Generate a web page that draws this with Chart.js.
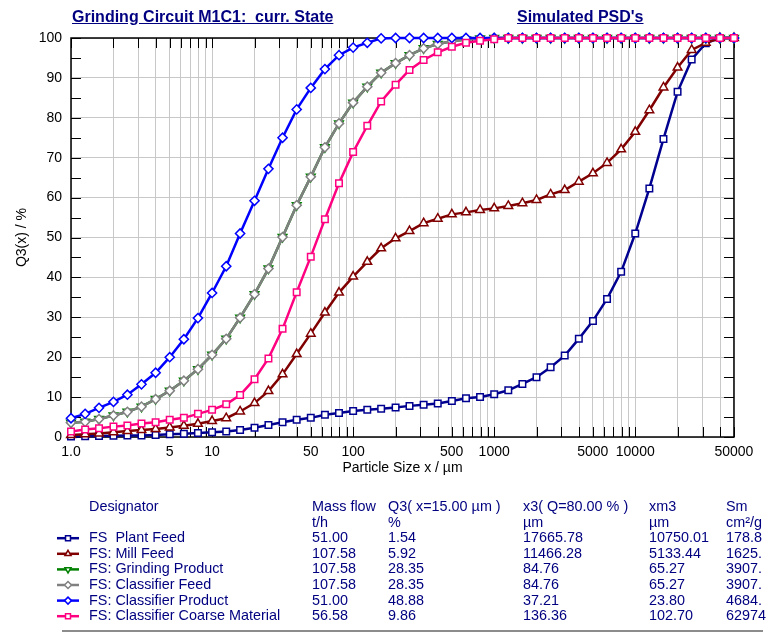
<!DOCTYPE html>
<html>
<head>
<meta charset="utf-8">
<script src="https://cdn.jsdelivr.net/npm/chart.js@4.4.1/dist/chart.umd.min.js"></script>
<style>
  html, body { margin: 0; padding: 0; background: #fff; }
  body { width: 782px; height: 632px; position: relative; overflow: hidden;
         font-family: "Liberation Sans", Arial, sans-serif; color: #000080; }
  #psd { position: absolute; left: 0; top: 0; }
  .title { position: absolute; top: 8px; font-weight: bold; font-size: 16px;
           text-decoration: underline; white-space: pre; }
  .cell { position: absolute; font-size: 14.4px; line-height: 15.6px; white-space: pre; }
  #rule { position: absolute; left: 62px; top: 630px; width: 701px; height: 2px; background: #8c8c8c; }
</style>
</head>
<body>
<canvas id="psd" width="782" height="632"></canvas>
<div class="title" style="left:72px">Grinding Circuit M1C1:  curr. State</div>
<div class="title" style="left:517px">Simulated PSD's</div>
<div id="table"></div>
<div id="rule"></div>
<script>
// particle size classes (µm)
const sizes = [1.00, 1.26, 1.58, 2.00, 2.51, 3.16, 3.98, 5.01, 6.31, 7.94,
  10.0, 12.6, 15.8, 20.0, 25.1, 31.6, 39.8, 50.1, 63.1, 79.4,
  100, 126, 158, 200, 251, 316, 398, 501, 631, 794,
  1000, 1259, 1585, 1995, 2512, 3162, 3981, 5012, 6310, 7943,
  10000, 12589, 15849, 19953, 25119, 31623, 39811, 50119];

// Q3(x) in % for each stream
const plantFeed = [0.1, 0.2, 0.25, 0.3, 0.35, 0.4, 0.5, 0.7, 0.8, 1.0,
  1.2, 1.4, 1.75, 2.3, 3.0, 3.7, 4.3, 4.8, 5.6, 6.0,
  6.5, 6.8, 7.1, 7.4, 7.8, 8.1, 8.4, 9.0, 9.7, 10.0,
  10.7, 11.7, 13.3, 15.0, 17.5, 20.4, 24.6, 29.1, 34.6, 41.4,
  51.0, 62.3, 74.7, 86.5, 94.6, 98.7, 100, 100];
const millFeed = [0.5, 0.7, 0.9, 1.2, 1.5, 1.75, 2.0, 2.4, 2.8, 3.3,
  4.0, 4.7, 6.4, 8.5, 11.5, 15.7, 20.8, 25.9, 31.2, 36.2,
  40.2, 43.9, 47.3, 49.8, 51.6, 53.6, 54.7, 55.8, 56.3, 56.9,
  57.3, 57.9, 58.6, 59.4, 60.8, 61.9, 64.0, 66.1, 68.7, 72.1,
  76.5, 81.9, 87.6, 92.6, 97.0, 98.8, 100, 100];
const grindingProduct = [3.6, 3.8, 4.5, 5.4, 6.3, 7.6, 9.5, 11.6, 14.1, 17.0,
  20.6, 24.6, 29.9, 35.8, 42.2, 50.1, 58.1, 65.2, 72.6, 78.6,
  83.8, 87.8, 91.3, 93.7, 95.7, 97.4, 98.5, 99.2, 99.6, 99.9,
  100, 100, 100, 100, 100, 100, 100, 100, 100, 100,
  100, 100, 100, 100, 100, 100, 100, 100];
const classifierFeed = [3.6, 3.8, 4.5, 5.4, 6.3, 7.6, 9.5, 11.6, 14.1, 17.0,
  20.6, 24.6, 29.9, 35.8, 42.2, 50.1, 58.1, 65.2, 72.6, 78.6,
  83.8, 87.8, 91.3, 93.7, 95.7, 97.4, 98.5, 99.2, 99.6, 99.9,
  100, 100, 100, 100, 100, 100, 100, 100, 100, 100,
  100, 100, 100, 100, 100, 100, 100, 100];
const classifierProduct = [4.7, 5.8, 7.3, 8.8, 10.6, 13.2, 16.1, 20.0, 24.5, 29.8,
  36.1, 42.8, 51.0, 59.2, 67.2, 75.0, 82.1, 87.5, 92.2, 95.7,
  97.6, 98.8, 99.9, 100, 100, 100, 100, 100, 100, 100,
  100, 100, 100, 100, 100, 100, 100, 100, 100, 100,
  100, 100, 100, 100, 100, 100, 100, 100];
const coarseMaterial = [1.4, 1.9, 2.2, 2.6, 2.9, 3.4, 3.7, 4.3, 4.8, 5.8,
  6.8, 8.2, 10.5, 14.5, 19.7, 27.1, 36.3, 45.2, 54.6, 63.6,
  71.4, 78.0, 84.1, 88.3, 92.0, 94.5, 96.4, 97.8, 98.8, 99.3,
  99.7, 100, 100, 100, 100, 100, 100, 100, 100, 100,
  100, 100, 100, 100, 100, 100, 100, 100];

// axis ticks
const xGridValues = [1, 2, 3, 4, 5, 6, 7, 8, 9,
  10, 20, 30, 40, 50, 60, 70, 80, 90,
  100, 200, 300, 400, 500, 600, 700, 800, 900,
  1000, 2000, 3000, 4000, 5000, 6000, 7000, 8000, 9000,
  10000, 20000, 30000, 40000, 50000];
const xTickLabels = [1, 5, 10, 50, 100, 500, 1000, 5000, 10000, 50000];

// table below the chart
const designators = ['FS  Plant Feed', 'FS: Mill Feed', 'FS: Grinding Product',
  'FS: Classifier Feed', 'FS: Classifier Product', 'FS: Classifier Coarse Material'];
const massFlow = ['51.00', '107.58', '107.58', '107.58', '51.00', '56.58'];
const q3At15 = ['1.54', '5.92', '28.35', '28.35', '48.88', '9.86'];
const x3At80 = ['17665.78', '11466.28', '84.76', '84.76', '37.21', '136.36'];
const xm3 = ['10750.01', '5133.44', '65.27', '65.27', '23.80', '102.70'];
const sm = ['178.8', '1625.', '3907.', '3907.', '4684.', '62974'];
const headers = ['Designator', 'Mass flow', 'Q3( x=15.00 µm )', 'x3( Q=80.00 % )', 'xm3', 'Sm'];
const units = ['', 't/h', '%', 'µm', 'µm', 'cm²/g'];

const colX = [89, 312, 388, 523, 649, 726];
const tableTop = 499;
const rowH = 15.6;

/********************************************
 * Table text
 ********************************************/
const table = document.getElementById('table');
function addRow(cells, top) {
  cells.forEach((txt, c) => {
    const d = document.createElement('div');
    d.className = 'cell';
    d.style.left = colX[c] + 'px';
    d.style.top = top + 'px';
    d.textContent = txt;
    table.appendChild(d);
  });
}
addRow(headers, tableTop);
addRow(units, tableTop + rowH);
designators.forEach((name, i) => {
  addRow([name, massFlow[i], q3At15[i], x3At80[i], xm3[i], sm[i]], tableTop + rowH * (i + 2));
});

/********************************************
 * Chart
 ********************************************/
function pts(vals) { return sizes.map((s, i) => ({ x: s, y: vals[i] })); }

function series(label, vals, color, style, rot, order) {
  return {
    label: label,
    data: pts(vals),
    borderColor: color,
    backgroundColor: '#fff',
    borderWidth: 2.5,
    pointStyle: style,
    pointRotation: rot,
    pointRadius: style === 'triangle' ? 5 : 4.6,
    pointBorderWidth: 1.5,
    pointBackgroundColor: '#fff',
    pointBorderColor: color,
    tension: 0,
    clip: false,
    order: order
  };
}

// inner ticks, plot frame and the legend symbols of the table
const frame = {
  id: 'frame',
  beforeDatasetsDraw(chart) {
    const { ctx, chartArea: a, scales: { x, y } } = chart;
    ctx.save();
    ctx.strokeStyle = '#000';
    ctx.lineWidth = 1;
    ctx.beginPath();
    x.ticks.forEach(t => {
      const px = Math.round(x.getPixelForValue(t.value)) + 0.5;
      ctx.moveTo(px, a.top); ctx.lineTo(px, a.top + 10);
      ctx.moveTo(px, a.bottom); ctx.lineTo(px, a.bottom - 10);
    });
    for (let v = 0; v <= 100; v += 5) {
      const py = Math.round(y.getPixelForValue(v)) + 0.5;
      ctx.moveTo(a.left, py); ctx.lineTo(a.left + 10, py);
      ctx.moveTo(a.right, py); ctx.lineTo(a.right - 10, py);
    }
    ctx.stroke();
    ctx.lineWidth = 1.5;
    ctx.strokeRect(a.left, a.top, a.right - a.left, a.bottom - a.top);
    ctx.restore();
  },
  afterDraw(chart) {
    const ctx = chart.ctx;
    ctx.save();
    chart.data.datasets.forEach((ds, i) => {
      const cy = tableTop + rowH * (i + 2) + 8;
      ctx.strokeStyle = ds.borderColor;
      ctx.lineWidth = 2.5;
      ctx.beginPath();
      ctx.moveTo(57, cy); ctx.lineTo(79, cy);
      ctx.stroke();
      ctx.fillStyle = '#fff';
      ctx.lineWidth = 1.5;
      Chart.helpers.drawPoint(ctx, {
        pointStyle: ds.pointStyle, rotation: ds.pointRotation, radius: 3.5, borderWidth: 1.5
      }, 68, cy);
    });
    ctx.restore();
  }
};

Chart.defaults.font.family = '"Liberation Sans", Arial, sans-serif';
Chart.defaults.font.size = 14;
Chart.defaults.color = '#000';

new Chart(document.getElementById('psd'), {
  type: 'line',
  data: {
    datasets: [
      series('FS  Plant Feed', plantFeed, '#000090', 'rect', 0, 5),
      series('FS: Mill Feed', millFeed, '#800000', 'triangle', 0, 4),
      series('FS: Grinding Product', grindingProduct, '#008000', 'triangle', 180, 3),
      series('FS: Classifier Feed', classifierFeed, '#808080', 'rectRot', 0, 2),
      series('FS: Classifier Product', classifierProduct, '#0000ff', 'rectRot', 0, 1),
      series('FS: Classifier Coarse Material', coarseMaterial, '#ff0080', 'rect', 0, 0)
    ]
  },
  options: {
    responsive: false,
    animation: false,
    devicePixelRatio: 1,
    layout: { padding: { left: 0, right: 48, top: 38, bottom: 152 } },
    plugins: { legend: { display: false }, tooltip: { enabled: false } },
    scales: {
      x: {
        type: 'logarithmic',
        min: 1,
        max: 50119,
        afterFit: s => { s.height = 43; },
        afterBuildTicks: s => { s.ticks = xGridValues.map(v => ({ value: v })); },
        ticks: {
          autoSkip: false, maxRotation: 0, padding: 7,
          callback: v => xTickLabels.includes(v) ? (v === 1 ? '1.0' : String(v)) : ''
        },
        grid: { color: '#c8c8c8', drawTicks: false },
        border: { display: false },
        title: { display: true, text: 'Particle Size x / µm', padding: { top: 0, bottom: 3 } }
      },
      y: {
        min: 0,
        max: 100,
        afterFit: s => { s.width = 71; },
        ticks: { stepSize: 10, padding: 9 },
        grid: { color: '#c8c8c8', drawTicks: false },
        border: { display: false },
        title: { display: true, text: 'Q3(x) / %', padding: { top: 14, bottom: 0 } }
      }
    }
  },
  plugins: [frame]
});
</script>
</body>
</html>
